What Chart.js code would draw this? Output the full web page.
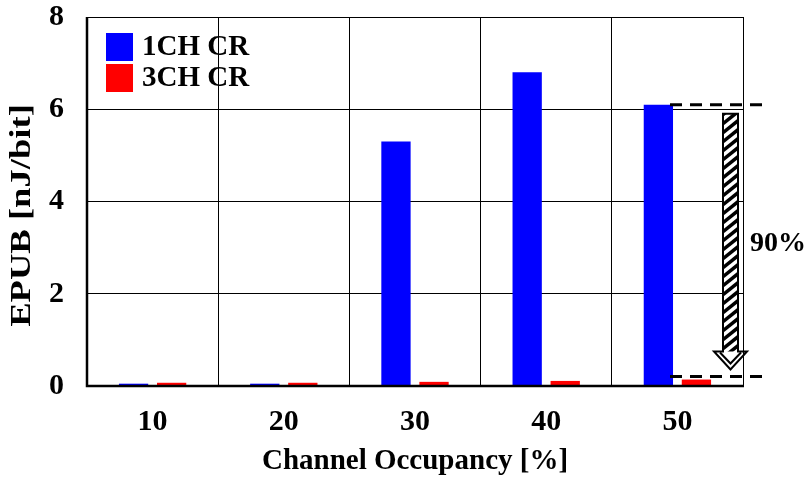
<!DOCTYPE html>
<html>
<head>
<meta charset="utf-8">
<script src="https://cdn.jsdelivr.net/npm/chart.js@4.4.1/dist/chart.umd.min.js"></script>
<style>
  html, body { margin: 0; padding: 0; background: #fff; }
  #wrap { width: 811px; height: 483px; }
</style>
</head>
<body>
<div id="wrap"><canvas id="chart" width="811" height="483"></canvas></div>
<script>
// Data
const occupancy = ['10', '20', '30', '40', '50'];
const oneChCr = [0.05, 0.05, 5.3, 6.8, 6.1];
const threeChCr = [0.07, 0.07, 0.09, 0.11, 0.14];
const yTicks = [0, 2, 4, 6, 8];
const yTitle = 'EPUB [nJ/bit]';
const reductionLabel = '90%';

const FONT = "'Liberation Serif', 'Times New Roman', serif";

// legend drawn inside the plot area (top-left)
const innerLegend = {
    id: 'innerLegend',
    afterDraw(chart) {
        const ctx = chart.ctx;
        const area = chart.chartArea;
        ctx.save();
        ctx.font = 'bold 29px ' + FONT;
        ctx.textBaseline = 'middle';
        ctx.textAlign = 'left';
        chart.data.datasets.forEach((ds, i) => {
            const y = area.top + 16 + i * 31;
            ctx.fillStyle = ds.backgroundColor;
            ctx.fillRect(area.left + 19, y, 27, 28);
            ctx.fillStyle = '#000';
            ctx.fillText(ds.label, area.left + 55, y + 15);
        });
        ctx.restore();
    }
};

// y title: the original is drawn a bit stretched along its baseline
const stretchedYTitle = {
    id: 'stretchedYTitle',
    afterDraw(chart) {
        const ctx = chart.ctx;
        const a = chart.chartArea;
        ctx.save();
        ctx.translate(22, (a.top + a.bottom) / 2 + 14);
        ctx.rotate(-Math.PI / 2);
        ctx.scale(1.22, 1);
        ctx.font = 'bold 30px ' + FONT;
        ctx.fillStyle = '#000';
        ctx.textAlign = 'center';
        ctx.textBaseline = 'middle';
        ctx.fillText(yTitle, 0, 0);
        ctx.restore();
    }
};

// dashed guide lines + hatched arrow showing the reduction at 50 %
const reductionArrow = {
    id: 'reductionArrow',
    afterDraw(chart) {
        const ctx = chart.ctx;
        const area = chart.chartArea;
        const ys = chart.scales.y;
        const last = occupancy.length - 1;
        const upper = ys.getPixelForValue(oneChCr[last]);
        const lower = ys.getPixelForValue(threeChCr[last]) - 3;
        const r = area.right;

        ctx.save();
        // dashed lines
        ctx.strokeStyle = '#000';
        ctx.lineWidth = 3;
        ctx.setLineDash([12, 8]);
        [upper, lower].forEach(y => {
            ctx.beginPath();
            ctx.moveTo(r - 73, y);
            ctx.lineTo(r + 27, y);
            ctx.stroke();
        });
        ctx.setLineDash([]);

        // arrow geometry
        const sl = r - 20, sr = r - 5;
        const top = upper + 9;
        const tip = lower - 7;
        const headTop = tip - 18;
        const hl = r - 29, hr = r + 4;
        const cx = (sl + sr) / 2;

        // hatched shaft
        ctx.save();
        ctx.beginPath();
        ctx.rect(sl, top, sr - sl, headTop - top);
        ctx.clip();
        ctx.fillStyle = '#fff';
        ctx.fillRect(sl, top, sr - sl, headTop - top);
        ctx.strokeStyle = '#000';
        ctx.lineWidth = 3.5;
        for (let y = top - 20; y < headTop + 20; y += 9) {
            ctx.beginPath();
            ctx.moveTo(sl, y + 12);
            ctx.lineTo(sr, y);
            ctx.stroke();
        }
        ctx.restore();

        ctx.beginPath();
        ctx.moveTo(sl, top);
        ctx.lineTo(sr, top);
        ctx.lineTo(sr, headTop);
        ctx.lineTo(hr, headTop);
        ctx.lineTo(cx, tip);
        ctx.lineTo(hl, headTop);
        ctx.lineTo(sl, headTop);
        ctx.closePath();
        ctx.lineWidth = 2;
        ctx.strokeStyle = '#000';
        ctx.stroke();

        // inner head outline
        ctx.beginPath();
        ctx.moveTo(hl + 6, headTop + 1);
        ctx.lineTo(cx, tip - 6);
        ctx.lineTo(hr - 6, headTop + 1);
        ctx.lineWidth = 2;
        ctx.stroke();

        // label
        ctx.fillStyle = '#000';
        ctx.font = 'bold 28px ' + FONT;
        ctx.textAlign = 'left';
        ctx.textBaseline = 'middle';
        ctx.fillText(reductionLabel, r + 7, (upper + lower) / 2 + 3);
        ctx.restore();
    }
};

// frame around the plot area
const frame = {
    id: 'frame',
    afterDatasetsDraw(chart) {
        const ctx = chart.ctx;
        const a = chart.chartArea;
        ctx.save();
        ctx.strokeStyle = '#000';
        ctx.lineWidth = 1;
        ctx.strokeRect(a.left + 0.5, a.top + 0.5, a.right - a.left, a.bottom - a.top);
        ctx.lineWidth = 2.5;
        ctx.beginPath();
        ctx.moveTo(a.left, a.top);
        ctx.lineTo(a.left, a.bottom);
        ctx.lineTo(a.right + 1, a.bottom);
        ctx.stroke();
        ctx.restore();
    }
};

new Chart(document.getElementById('chart'), {
    type: 'bar',
    data: {
        labels: occupancy,
        datasets: [
            {
                label: '1CH CR',
                data: oneChCr,
                backgroundColor: '#0000ff',
                categoryPercentage: 0.58,
                barPercentage: 0.77
            },
            {
                label: '3CH CR',
                data: threeChCr,
                backgroundColor: '#ff0000',
                categoryPercentage: 0.58,
                barPercentage: 0.77
            }
        ]
    },
    options: {
        responsive: false,
        animation: false,
        devicePixelRatio: 1,
        layout: { padding: { left: 0, top: 17, right: 68, bottom: 0 } },
        plugins: {
            legend: { display: false },
            tooltip: { enabled: false }
        },
        scales: {
            x: {
                grid: { color: '#000', lineWidth: 1, drawTicks: false, offset: true },
                border: { display: false },
                ticks: {
                    color: '#000',
                    padding: 18,
                    font: { family: FONT, size: 30, weight: 'bold' }
                },
                title: {
                    display: true,
                    text: 'Channel Occupancy [%]',
                    color: '#000',
                    padding: { top: 4, bottom: 4 },
                    font: { family: FONT, size: 29, weight: 'bold' }
                },
                afterFit: s => { s.height = 97; s.paddingLeft = 0; s.paddingRight = 0; }
            },
            y: {
                min: 0,
                max: 8,
                afterBuildTicks: s => { s.ticks = yTicks.map(v => ({ value: v })); },
                grid: { color: '#000', lineWidth: 1, drawTicks: false },
                border: { display: false },
                ticks: {
                    color: '#000',
                    padding: 23,
                    font: { family: FONT, size: 30, weight: 'bold' }
                },
                title: { display: false },
                afterFit: s => { s.width = 87; s.paddingTop = 0; s.paddingBottom = 0; }
            }
        }
    },
    plugins: [frame, innerLegend, stretchedYTitle, reductionArrow]
});
</script>
</body>
</html>
